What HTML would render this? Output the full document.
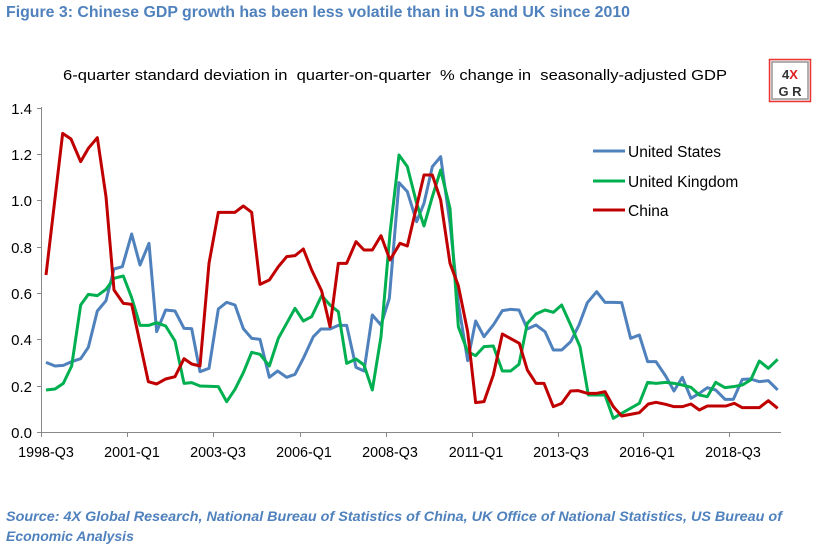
<!DOCTYPE html>
<html><head><meta charset="utf-8"><style>
body{margin:0;width:818px;height:549px;background:#fff;overflow:hidden;font-family:"Liberation Sans",Arial,sans-serif}
</style></head><body>
<svg width="818" height="549" viewBox="0 0 818 549" xmlns="http://www.w3.org/2000/svg" font-family="Liberation Sans, Arial, sans-serif">
<text x="6" y="17" font-size="15.5" font-weight="bold" fill="#4F81BD" textLength="624" lengthAdjust="spacingAndGlyphs">Figure 3: Chinese GDP growth has been less volatile than in US and UK since 2010</text>
<text x="63" y="80" font-size="15" fill="#000" xml:space="preserve" textLength="664" lengthAdjust="spacingAndGlyphs">6-quarter standard deviation in  quarter-on-quarter  % change in  seasonally-adjusted GDP</text>
<rect x="769.5" y="59.5" width="41" height="42" fill="#eee" stroke="#e33" stroke-width="1.5"/>
<rect x="772" y="62" width="36" height="37" fill="#fff" stroke="#999" stroke-width="1.5"/>
<text x="790" y="79" font-size="13" font-weight="bold" text-anchor="middle" fill="#333">4<tspan fill="#e02020">X</tspan></text>
<text x="790" y="96" font-size="13" font-weight="bold" text-anchor="middle" fill="#333">G R</text>
<g stroke="#888" stroke-width="1">
<line x1="41.5" y1="107" x2="41.5" y2="432"/>
<line x1="41" y1="432.5" x2="781" y2="432.5"/>
<line x1="37" y1="108.5" x2="41" y2="108.5"/><line x1="37" y1="154.5" x2="41" y2="154.5"/><line x1="37" y1="200.5" x2="41" y2="200.5"/><line x1="37" y1="247.5" x2="41" y2="247.5"/><line x1="37" y1="293.5" x2="41" y2="293.5"/><line x1="37" y1="339.5" x2="41" y2="339.5"/><line x1="37" y1="386.5" x2="41" y2="386.5"/><line x1="37" y1="432.5" x2="41" y2="432.5"/>
<line x1="41.5" y1="432" x2="41.5" y2="437"/><line x1="127.5" y1="432" x2="127.5" y2="437"/><line x1="213.5" y1="432" x2="213.5" y2="437"/><line x1="300.5" y1="432" x2="300.5" y2="437"/><line x1="386.5" y1="432" x2="386.5" y2="437"/><line x1="472.5" y1="432" x2="472.5" y2="437"/><line x1="558.5" y1="432" x2="558.5" y2="437"/><line x1="643.5" y1="432" x2="643.5" y2="437"/><line x1="729.5" y1="432" x2="729.5" y2="437"/>
</g>
<g font-size="15" fill="#000" text-anchor="end">
<text x="32" y="114">1.4</text><text x="32" y="160">1.2</text><text x="32" y="206">1.0</text><text x="32" y="253">0.8</text><text x="32" y="299">0.6</text><text x="32" y="345">0.4</text><text x="32" y="392">0.2</text><text x="32" y="438">0.0</text>
</g>
<g font-size="14.3" fill="#000" text-anchor="middle">
<text x="46" y="457">1998-Q3</text><text x="132" y="457">2001-Q1</text><text x="218" y="457">2003-Q3</text><text x="304" y="457">2006-Q1</text><text x="390" y="457">2008-Q3</text><text x="476" y="457">2011-Q1</text><text x="561" y="457">2013-Q3</text><text x="647" y="457">2016-Q1</text><text x="733" y="457">2018-Q3</text>
</g>
<g fill="none" stroke-width="3" stroke-linejoin="round">
<g transform="translate(0,90) scale(0.33333)">
<polyline vector-effect="non-scaling-stroke" stroke="#4F81BD" points="138,817 165,828 190,826 215,815 242,806 265,772 292,663 318,632 342,537 367,530 395,432 420,525 447,460 470,725 497,660 525,663 552,715 575,716 600,845 627,835 655,657 680,637 705,645 730,716 755,745 780,748 808,862 833,843 860,862 885,853 910,805 940,740 963,717 990,717 1015,706 1040,706 1068,832 1092,843 1117,675 1143,705 1168,625 1197,278 1222,305 1250,395 1272,340 1297,230 1322,200 1350,400 1375,640 1403,812 1427,693 1452,740 1480,705 1507,662 1532,658 1557,660 1582,717 1608,705 1635,725 1660,780 1685,780 1712,755 1737,705 1762,638 1790,605 1815,637 1840,637 1865,638 1892,745 1918,735 1943,815 1968,815 1997,858 2022,903 2047,862 2073,925 2098,910 2122,893 2147,900 2175,928 2200,928 2227,868 2252,867 2278,875 2305,872 2333,900"/>
<polyline vector-effect="non-scaling-stroke" stroke="#00B050" points="138,900 165,897 190,880 215,828 242,645 265,613 292,617 318,598 342,565 370,558 395,623 420,706 447,706 470,698 497,708 525,753 552,880 575,878 600,888 655,890 680,935 705,898 730,848 755,787 780,793 808,828 835,745 860,700 885,655 910,693 935,680 965,617 990,645 1015,665 1040,820 1068,807 1092,825 1117,900 1143,740 1170,430 1197,195 1222,230 1250,340 1272,408 1297,320 1322,240 1350,355 1375,710 1403,785 1427,797 1452,770 1480,768 1507,843 1532,843 1557,823 1582,700 1608,672 1635,660 1660,667 1685,645 1712,705 1740,770 1765,915 1790,915 1815,915 1840,985 1865,970 1918,940 1943,877 1968,880 1997,877 2022,880 2047,885 2073,892 2098,915 2122,920 2147,877 2175,893 2200,890 2227,885 2252,870 2278,813 2305,835 2333,808"/>
<polyline vector-effect="non-scaling-stroke" stroke="#C00000" points="138,555 188,130 213,147 242,215 265,175 292,143 318,320 342,600 370,640 395,643 445,875 470,882 497,867 525,860 552,806 575,822 600,828 627,520 655,367 705,367 730,348 755,367 780,583 808,570 835,530 860,500 885,497 910,477 935,540 965,603 990,710 1015,520 1040,520 1068,455 1092,480 1117,480 1143,437 1170,510 1200,460 1222,468 1272,255 1297,255 1322,330 1350,520 1375,587 1403,725 1427,938 1452,935 1480,855 1507,732 1558,760 1582,840 1608,880 1632,880 1660,950 1685,940 1712,903 1735,902 1762,910 1790,910 1815,905 1840,950 1865,978 1918,968 1945,942 1968,937 1997,943 2022,950 2047,950 2073,942 2098,960 2122,948 2178,948 2203,940 2227,953 2278,953 2305,932 2333,955"/>
</g>
<line x1="593" y1="151" x2="625" y2="151" stroke="#4F81BD"/>
<line x1="593" y1="181" x2="625" y2="181" stroke="#00B050"/>
<line x1="593" y1="210" x2="625" y2="210" stroke="#C00000"/>
</g>
<g font-size="15.5" fill="#000">
<text x="628" y="157">United States</text><text x="628" y="187">United Kingdom</text><text x="628" y="216">China</text>
</g>
<g font-size="14" font-weight="bold" font-style="italic" fill="#4F81BD">
<text x="6" y="521" textLength="776" lengthAdjust="spacingAndGlyphs">Source: 4X Global Research, National Bureau of Statistics of China, UK Office of National Statistics, US Bureau of</text>
<text x="6" y="541">Economic Analysis</text>
</g>
</svg>
</body></html>
